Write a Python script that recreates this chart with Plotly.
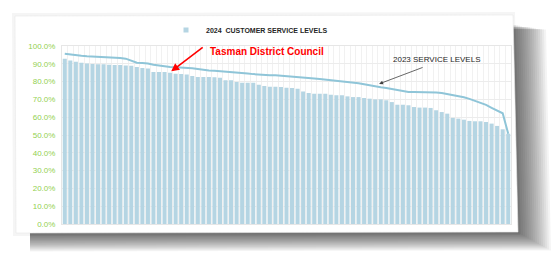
import plotly.graph_objects as go

# 2024 customer service levels (%), one bar per council, sorted descending
levels_2024 = [
    92.9, 91.8, 91.2, 90.6, 90.2, 89.9, 89.7, 89.7, 89.5, 89.3,
    89.3, 89.1, 88.9, 88.2, 87.6, 87.3, 85.4, 85.4, 85.4, 85.0,
    84.4, 84.2, 84.0, 83.1, 82.6, 82.6, 82.6, 82.4, 82.2, 80.7,
    80.7, 79.8, 79.4, 79.4, 79.4, 78.3, 77.5, 77.1, 77.1, 77.0,
    76.6, 76.4, 76.0, 74.5, 73.6, 73.2, 73.2, 73.2, 72.6, 72.3,
    72.3, 71.7, 71.3, 71.3, 70.8, 70.4, 70.0, 70.0, 69.5, 68.5,
    67.0, 67.0, 66.7, 65.7, 65.4, 65.4, 65.2, 63.9, 62.9, 62.0,
    59.6, 59.2, 58.6, 57.9, 57.7, 57.7, 57.3, 56.4, 55.1, 53.2,
    50.7,
]
# 2023 service levels (%), line
levels_2023 = [
    95.7, 95.2, 94.8, 94.5, 94.2, 94.1, 94.0, 93.8, 93.6, 93.4,
    93.2, 92.9, 91.8, 90.6, 90.4, 90.2, 89.5, 89.0, 88.6, 88.2,
    88.1, 88.0, 87.7, 87.5, 87.1, 86.6, 86.3, 86.1, 85.9, 85.8,
    85.5, 85.2, 85.0, 84.6, 84.2, 83.9, 83.7, 83.6, 83.5, 83.3,
    83.0, 82.8, 82.6, 82.4, 82.1, 81.7, 81.4, 81.1, 80.8, 80.5,
    80.2, 79.9, 79.5, 79.1, 78.5, 77.8, 77.2, 76.8, 76.4, 75.9,
    75.3, 74.8, 74.2, 74.2, 74.2, 74.1, 74.0, 73.9, 73.6, 73.1,
    72.6, 72.1, 71.2, 70.3, 69.3, 68.1, 66.9, 65.3, 63.9, 62.2,
    50.7,
]
councils = list(range(len(levels_2024)))
tasman_index = 19
arrow_2023_index = 56.7
y_ticks = [0, 10, 20, 30, 40, 50, 60, 70, 80, 90, 100]
bar_color = "#b5d5e3"

W, H = 554, 267
ML, MR, MT, MB = 62, 43, 46, 43
PW, PH = W - ML - MR, H - MT - MB


def px(x):
    return (x - ML) / PW


def py(y):
    return (H - MB - y) / PH


def poly(points):
    return "M " + " L ".join(f"{px(a):.4f},{py(b):.4f}" for a, b in points) + " Z"


card = [(15, 16), (513, 15), (518, 232), (16, 233)]
shapes = []
# soft drop shadow (right and bottom)
for k in range(16):
    e = 2.0 * k
    pts = [(card[0][0] + 14, card[0][1] + 10),
           (card[1][0] + 3 + e, card[1][1] + 10 + e * 0.15),
           (card[2][0] + 3 + e, card[2][1] + 2 + e * 0.55),
           (card[3][0] + 14, card[3][1] + 2 + e * 0.55)]
    shapes.append(dict(type="path", path=poly(pts), xref="paper", yref="paper",
                       fillcolor="rgba(0,0,0,0.045)", line=dict(width=0), layer="below"))
# faint halo on the top/left
shapes.append(dict(type="path",
                   path=poly([(12, 13), (515, 12), (520, 235), (13, 236)]),
                   xref="paper", yref="paper", fillcolor="rgba(0,0,0,0.04)",
                   line=dict(width=0), layer="below"))
shapes.append(dict(type="path", path=poly(card), xref="paper", yref="paper",
                   fillcolor="white", line=dict(width=0.6, color="#e8e8e8"), layer="below"))

fig = go.Figure()
fig.add_trace(go.Bar(
    x=councils, y=levels_2024, name="2024 CUSTOMER SERVICE LEVELS",
    marker=dict(color=bar_color, line=dict(width=0)), showlegend=False,
    legendgroup="bars",
))
# legend entry for the bars (small square key, as in the source chart)
fig.add_trace(go.Scatter(
    x=[None], y=[None], mode="markers", name="<b>2024  CUSTOMER SERVICE LEVELS</b>",
    marker=dict(symbol="square", size=5, color=bar_color), legendgroup="bars",
))
fig.add_trace(go.Scatter(
    x=councils, y=levels_2023, mode="lines", name="2023 SERVICE LEVELS",
    line=dict(color="#8fc5d8", width=2), showlegend=False,
))

fig.add_annotation(x=tasman_index + 0.2, y=levels_2024[tasman_index] + 0.8, text="",
                   showarrow=True, arrowhead=2, arrowsize=1, arrowwidth=1.6,
                   arrowcolor="#ff0000", ax=33, ay=-25)
fig.add_annotation(x=25.8, y=97.0, text="<b>Tasman District Council</b>", showarrow=False,
                   xanchor="left", font=dict(family="Liberation Sans", size=10, color="#ff0000"))
fig.add_annotation(x=arrow_2023_index, y=78.7, text="", showarrow=True, arrowhead=2,
                   arrowsize=1, arrowwidth=0.8, arrowcolor="#404040", ax=45, ay=-17)
fig.add_annotation(x=67.1, y=92.2, text="2023 SERVICE LEVELS", showarrow=False,
                   font=dict(family="Liberation Sans", size=8, color="#262626"))

fig.update_layout(
    width=W, height=H, margin=dict(l=ML, r=MR, t=MT, b=MB),
    paper_bgcolor="white", plot_bgcolor="rgba(0,0,0,0)",
    bargap=0.27, shapes=shapes,
    showlegend=True,
    legend=dict(orientation="h", x=px(166), y=py(30), xanchor="left", yanchor="middle",
                font=dict(family="Liberation Sans", size=7, color="#262626"),
                bgcolor="rgba(0,0,0,0)", itemwidth=30),
    font=dict(family="Liberation Sans"),
)
fig.update_xaxes(range=[-0.5, len(councils) - 0.5], showticklabels=False, ticks="",
                 showgrid=True, gridcolor="#f1f1f1", gridwidth=1, tick0=0.5, dtick=1,
                 zeroline=False, showline=True, linecolor="#e6e6e6", mirror=True)
fig.update_yaxes(range=[0, 100], tickvals=y_ticks, ticktext=[f"{v:.1f}%" for v in y_ticks],
                 tickfont=dict(family="Liberation Sans", size=8, color="#92d050"),
                 showgrid=True, gridcolor="#ececec", gridwidth=1, zeroline=False,
                 showline=True, linecolor="#e6e6e6", mirror=True, ticks="", ticklabelstandoff=4)

fig.write_html("out.html")
